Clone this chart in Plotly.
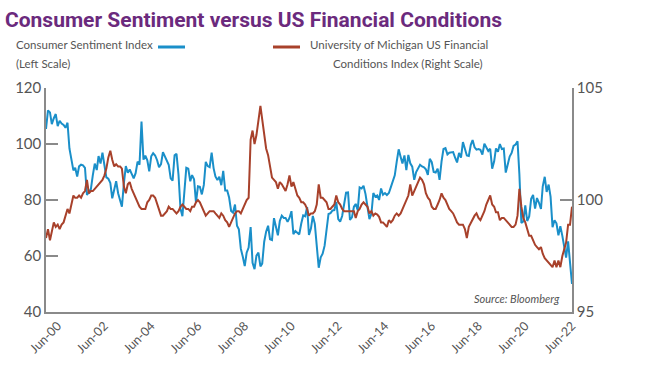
import pandas as pd
import plotly.graph_objects as go

# Monthly, Dec-1999 .. Jun-2022
dates = pd.date_range("1999-12-01", "2022-06-01", freq="MS")

sentiment = [
    105.4,
    112.0, 111.3, 107.1, 109.2, 110.7, 106.4, 108.3, 107.3, 106.8, 105.8, 107.6, 98.4,
    94.7, 90.6, 91.5, 88.4, 92.0, 92.6, 92.4, 91.5, 81.8, 82.7, 83.9, 88.8,
    93.0, 90.7, 95.7, 93.0, 96.9, 92.4, 88.1, 87.6, 86.1, 80.6, 84.2, 86.7,
    82.4, 79.9, 77.6, 86.0, 92.1, 89.7, 90.9, 89.3, 87.7, 89.6, 93.7, 92.6,
    108.0, 94.4, 95.8, 94.2, 90.2, 95.6, 96.7, 95.9, 94.2, 91.7, 92.8, 97.1,
    95.5, 94.1, 92.6, 87.7, 86.9, 96.0, 96.5, 89.1, 76.9, 74.2, 81.6, 91.5,
    91.2, 86.7, 88.9, 87.4, 79.1, 84.9, 84.7, 82.0, 85.4, 93.6, 92.1, 91.7,
    96.9, 91.3, 88.4, 87.1, 88.3, 85.3, 90.4, 83.4, 83.4, 80.9, 76.1, 75.5,
    78.4, 70.8, 69.5, 62.6, 59.8, 56.4, 61.2, 63.0, 70.3, 57.6, 55.3, 60.1,
    61.2, 56.3, 57.3, 65.1, 68.7, 70.8, 66.0, 65.7, 73.5, 70.6, 67.4, 72.5,
    74.4, 73.6, 73.6, 72.2, 73.6, 76.0, 67.8, 68.9, 68.2, 67.7, 71.6, 74.5,
    74.2, 77.5, 67.5, 69.8, 74.3, 71.5, 63.7, 55.8, 59.5, 60.8, 63.7, 69.9,
    75.0, 75.3, 76.2, 76.4, 79.3, 73.2, 72.3, 74.3, 78.3, 82.6, 82.7, 72.9,
    73.8, 77.6, 78.6, 76.4, 84.5, 84.1, 85.1, 82.1, 77.5, 73.2, 75.1, 82.5,
    81.2, 81.6, 80.0, 84.1, 81.9, 82.5, 81.8, 82.5, 84.6, 86.9, 88.8, 93.6,
    98.1, 95.4, 93.0, 95.9, 90.7, 96.1, 93.1, 91.9, 87.2, 90.0, 91.3, 92.6,
    92.0, 91.7, 91.0, 89.0, 94.7, 93.5, 90.0, 89.8, 91.2, 87.2, 93.8, 98.2,
    98.5, 96.3, 96.9, 97.0, 97.1, 95.1, 93.4, 96.8, 95.1, 100.7, 98.5, 95.9,
    95.7, 99.7, 101.4, 98.8, 98.0, 98.2, 97.9, 96.2, 100.1, 98.6, 97.5, 98.3,
    91.2, 93.8, 98.4, 97.2, 100.0, 98.2, 98.4, 89.8, 93.2, 95.5, 96.8, 99.3,
    99.8, 101.0, 89.1, 71.8, 72.3, 78.1, 72.5, 74.1, 80.4, 81.8, 76.9, 80.7,
    79.0, 76.8, 84.9, 88.3, 82.9, 85.5, 81.2, 70.3, 72.8, 71.7, 67.4, 70.6,
    67.2, 62.8, 59.4, 65.2, 58.4, 50.0,
]

fin_conditions = [
    98.3,
    98.7, 98.2, 98.6, 99.0, 98.8, 98.9, 98.7, 98.9, 99.0, 99.3, 99.6, 99.4,
    99.8, 100.2, 100.1, 100.1, 100.2, 100.1, 100.3, 100.4, 100.9, 100.3, 100.4, 100.4,
    100.5, 100.6, 100.7, 100.8, 100.9, 101.1, 101.4, 101.9, 102.2, 101.8, 101.5, 101.6,
    101.5, 101.5, 101.4, 100.6, 100.3, 100.7, 100.8, 100.5, 100.3, 100.1, 99.9, 99.7,
    99.6, 99.6, 99.6, 99.9, 100.0, 100.2, 100.2, 100.1, 99.8, 99.6, 99.3, 99.3,
    99.4, 99.5, 99.7, 99.6, 99.6, 99.5, 99.4, 99.5, 99.7, 99.8, 99.7, 99.6,
    99.6, 99.5, 99.7, 99.7, 99.9, 100.0, 99.9, 99.7, 99.5, 99.3, 99.4, 99.5,
    99.5, 99.5, 99.4, 99.3, 99.2, 99.4, 99.3, 99.1, 99.0, 98.8, 99.0, 99.2,
    99.4, 99.5, 99.5, 99.4, 99.6, 99.8, 100.0, 100.1, 102.7, 103.1, 102.5, 102.9,
    103.7, 104.2, 103.6, 102.9, 102.3, 102.0, 101.5, 101.0, 100.9, 100.8, 100.5, 100.8,
    100.7, 100.5, 100.4, 100.7, 101.1, 100.6, 100.8, 100.5, 100.2, 100.1, 99.9, 99.9,
    99.8, 99.6, 99.3, 99.4, 99.4, 99.5, 99.8, 100.7, 100.1, 100.1, 100.0, 99.9,
    99.6, 99.6, 99.7, 99.8, 100.2, 99.9, 99.8, 99.6, 99.5, 99.5, 99.5, 99.5,
    99.5, 99.5, 99.2, 99.5, 99.6, 99.8, 99.9, 99.8, 99.7, 99.4, 99.5, 99.3,
    99.4, 99.35, 99.25, 99.0, 99.0, 98.9, 98.8, 99.1, 99.0, 99.1, 99.3, 99.4,
    99.3, 99.4, 99.6, 99.8, 100.0, 100.2, 100.7, 100.2, 100.4, 100.6, 100.8, 101.0,
    100.9, 100.7, 100.3, 100.1, 100.0, 99.7, 99.6, 99.6, 99.8, 100.0, 100.3, 100.1,
    100.0, 99.8, 99.6, 99.5, 99.4, 99.2, 99.0, 98.9, 98.9, 98.9, 98.7, 98.3,
    98.8, 99.0, 99.1, 99.3, 99.4, 99.2, 99.1, 99.3, 99.5, 99.8, 100.0, 100.2,
    99.8, 99.7, 99.45, 99.45, 99.1, 99.2, 99.2, 99.1, 99.0, 98.95, 98.8, 98.8,
    98.9, 99.3, 100.5, 99.7, 99.2, 99.0, 98.7, 98.4, 98.4, 98.2, 98.0, 97.9,
    97.8, 97.9, 97.6, 97.4, 97.3, 97.2, 97.1, 97.0, 97.3, 97.0, 97.3, 97.0,
    97.5, 97.8, 98.1, 98.9, 98.9, 99.7,
]

tick_dates = pd.date_range("2000-06-01", "2022-06-01", freq="24MS")
tick_labels = ["Jun-%02d" % (d.year % 100) for d in tick_dates]

BLUE = "#1a8fc9"
RED = "#a8412b"
GREY = "#555555"
AXIS = "#8a8a8a"
FONT = "Lato, 'Open Sans', sans-serif"

fig = go.Figure()
fig.add_trace(go.Scatter(x=dates, y=sentiment, mode="lines",
                         line=dict(color=BLUE, width=2), yaxis="y",
                         showlegend=False))
fig.add_trace(go.Scatter(x=dates, y=fin_conditions, mode="lines",
                         line=dict(color=RED, width=2), yaxis="y2",
                         showlegend=False))

L, R, T, B = 46, 78, 88, 65
PW, PH = 650 - L - R, 377 - T - B


def px(xp):
    return (xp - L) / PW


def py(yp):
    return (377 - B - yp) / PH


fig.update_layout(
    width=650, height=377,
    margin=dict(l=L, r=R, t=T, b=B, autoexpand=False),
    paper_bgcolor="white", plot_bgcolor="white",
    font=dict(family=FONT, color=GREY),
    title=dict(text="<b>Consumer Sentiment versus US Financial Conditions</b>",
               font=dict(family="Roboto, sans-serif", size=21, color="#6b2a7d"),
               x=5 / 650, xanchor="left", xref="container",
               y=1 - 20 / 377, yanchor="middle", yref="container"),
    xaxis=dict(type="date", range=[dates[0], dates[-1]], automargin=False,
               tickvals=tick_dates, ticktext=tick_labels, tickangle=-45,
               showgrid=False, zeroline=False, showline=True,
               linecolor=AXIS, linewidth=1.5, ticks="",
               tickfont=dict(size=12.5, color=GREY)),
    yaxis=dict(range=[40, 120], tickvals=[40, 60, 80, 100, 120], automargin=False,
               showgrid=False, zeroline=False, showline=True,
               linecolor=AXIS, linewidth=1.5, ticks="inside", ticklen=12,
               tickcolor=AXIS, tickwidth=1.5,
               tickfont=dict(size=15, color=GREY)),
    yaxis2=dict(range=[95, 105], tickvals=[95, 100, 105], overlaying="y",
                automargin=False,
                side="right", showgrid=False, zeroline=False, showline=True,
                linecolor=AXIS, linewidth=1.5, ticks="inside", ticklen=12,
                tickcolor=AXIS, tickwidth=1.5,
                tickfont=dict(size=15, color=GREY)),
)

annotations = [
    dict(text="Consumer Sentiment Index", x=px(14), y=py(45),
         xanchor="left", yanchor="middle"),
    dict(text="(Left Scale)", x=px(14), y=py(63),
         xanchor="left", yanchor="middle"),
    dict(text="University of Michigan US Financial", x=px(308), y=py(45),
         xanchor="left", yanchor="middle"),
    dict(text="Conditions Index (Right Scale)", x=px(485), y=py(63),
         xanchor="right", yanchor="middle"),
]
for a in annotations:
    fig.add_annotation(xref="paper", yref="paper", showarrow=False,
                       font=dict(size=11.5, color=GREY, family=FONT), **a)
fig.add_annotation(xref="paper", yref="paper", showarrow=False,
                   text="<i>Source: Bloomberg</i>", x=px(562), y=py(298),
                   xanchor="right", yanchor="middle",
                   font=dict(size=11, color=GREY, family=FONT))

fig.add_shape(type="line", xref="paper", yref="paper",
              x0=px(158), x1=px(185), y0=py(47), y1=py(47),
              line=dict(color=BLUE, width=3))
fig.add_shape(type="line", xref="paper", yref="paper",
              x0=px(273), x1=px(300), y0=py(47), y1=py(47),
              line=dict(color=RED, width=3))

fig.write_html("out.html", config={"displayModeBar": False},
               post_script="document.body.style.margin='0';document.body.style.overflow='hidden';")
